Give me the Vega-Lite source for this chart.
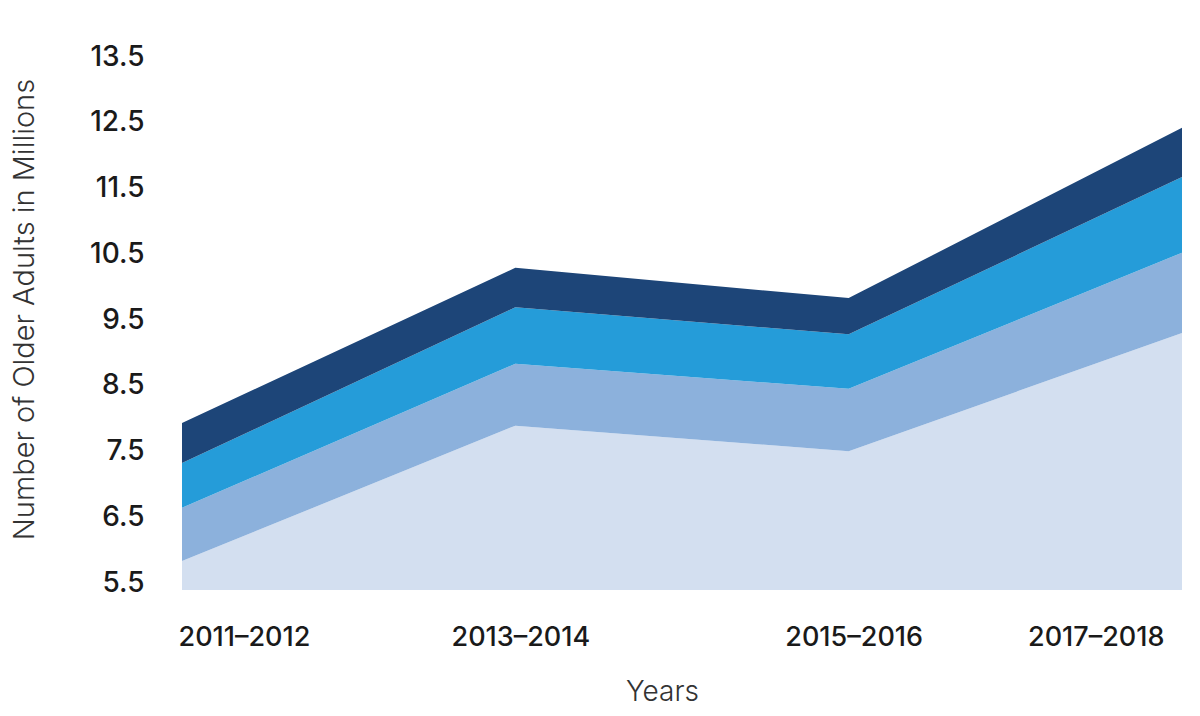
{
  "$schema": "https://vega.github.io/schema/vega-lite/v6.json",
  "autosize": "none",
  "width": 1000,
  "height": 526,
  "padding": {"left": 182, "top": 64, "right": 18, "bottom": 126},
  "background": "#ffffff",
  "config": {
    "view": {"stroke": null},
    "font": "Inter"
  },
  "data": {
    "values": [
      {"period": "2011–2012", "layer": 1, "value": 5.94},
      {"period": "2013–2014", "layer": 1, "value": 8.00},
      {"period": "2015–2016", "layer": 1, "value": 7.61},
      {"period": "2017–2018", "layer": 1, "value": 9.41},
      {"period": "2011–2012", "layer": 2, "value": 0.81},
      {"period": "2013–2014", "layer": 2, "value": 0.94},
      {"period": "2015–2016", "layer": 2, "value": 0.95},
      {"period": "2017–2018", "layer": 2, "value": 1.22},
      {"period": "2011–2012", "layer": 3, "value": 0.68},
      {"period": "2013–2014", "layer": 3, "value": 0.86},
      {"period": "2015–2016", "layer": 3, "value": 0.83},
      {"period": "2017–2018", "layer": 3, "value": 1.15},
      {"period": "2011–2012", "layer": 4, "value": 0.61},
      {"period": "2013–2014", "layer": 4, "value": 0.60},
      {"period": "2015–2016", "layer": 4, "value": 0.55},
      {"period": "2017–2018", "layer": 4, "value": 0.75}
    ]
  },
  "mark": {"type": "area", "clip": true, "opacity": 1},
  "encoding": {
    "x": {
      "field": "period",
      "type": "ordinal",
      "sort": ["2011–2012", "2013–2014", "2015–2016", "2017–2018"],
      "scale": {"type": "point", "padding": 0},
      "axis": {
        "title": "Years",
        "titleFont": "Inter",
        "titleFontSize": 28,
        "titleFontWeight": 300,
        "titleColor": "#333333",
        "titleX": 480,
        "titleY": 102,
        "titleBaseline": "middle",
        "titleAlign": "center",
        "labelFont": "Inter",
        "labelFontSize": 27,
        "labelFontWeight": 500,
        "labelColor": "#1a1a1a",
        "labelAngle": 0,
        "labelBaseline": "middle",
        "labelPadding": 47,
        "labelAlign": {"expr": "datum.value == '2011–2012' ? 'left' : datum.value == '2017–2018' ? 'right' : 'center'"},
        "labelOffset": {"expr": "datum.value == '2011–2012' ? -4 : datum.value == '2017–2018' ? -18 : 5"},
        "domain": false,
        "ticks": false,
        "grid": false
      }
    },
    "y": {
      "field": "value",
      "type": "quantitative",
      "stack": "zero",
      "scale": {"domain": [5.5, 13.5], "zero": false, "nice": false},
      "axis": {
        "title": "Number of Older Adults in Millions",
        "titleFont": "Inter",
        "titleFontSize": 29,
        "titleFontWeight": 300,
        "titleColor": "#333333",
        "titleX": -158,
        "titleY": 245,
        "titleAngle": -90,
        "titleBaseline": "middle",
        "titleAlign": "center",
        "values": [5.5, 6.5, 7.5, 8.5, 9.5, 10.5, 11.5, 12.5, 13.5],
        "format": ".1f",
        "labelFont": "Inter",
        "labelFontSize": 28,
        "labelFontWeight": 500,
        "labelColor": "#1a1a1a",
        "labelPadding": 38,
        "labelOffset": -7,
        "labelBaseline": "middle",
        "domain": false,
        "ticks": false,
        "grid": false
      }
    },
    "color": {
      "field": "layer",
      "type": "ordinal",
      "scale": {
        "domain": [1, 2, 3, 4],
        "range": ["#d3dff0", "#8cb1dc", "#259cd9", "#1d4578"]
      },
      "legend": null
    },
    "order": {"field": "layer", "sort": "ascending"}
  }
}
